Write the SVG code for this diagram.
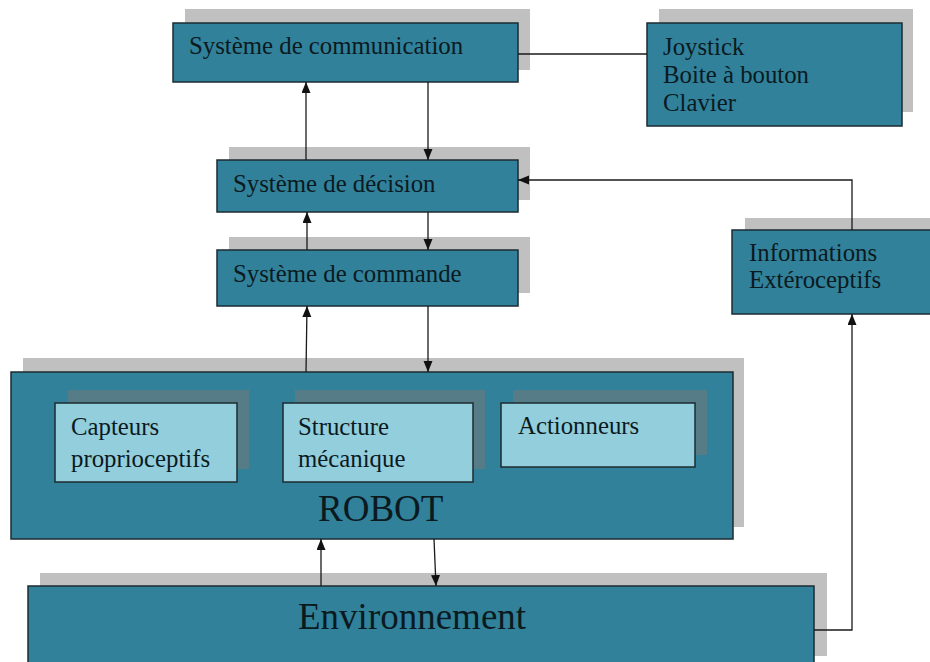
<svg xmlns="http://www.w3.org/2000/svg" width="930" height="662" viewBox="0 0 930 662">
  <defs>
    <marker id="arrow" markerUnits="userSpaceOnUse" markerWidth="11" markerHeight="10" refX="11" refY="4.5" orient="auto">
      <path d="M0,0 L11,4.5 L0,9 z" fill="#111"/>
    </marker>
    <style>
      .shadow { fill: #c0c0c0; }
      .ishadow { fill: #567c88; }
      .box { fill: #31819a; stroke: #1c2b30; stroke-width: 1.5; }
      .ibox { fill: #93cedc; stroke: #1c2b30; stroke-width: 1.5; }
      .lbl { font-family: "Liberation Serif", "Times New Roman", serif; font-size: 24.8px; fill: #0b1a1f; }
      .big { font-family: "Liberation Serif", "Times New Roman", serif; font-size: 37px; fill: #0b1a1f; }
      .wire { fill: none; stroke: #1a1a1a; stroke-width: 1.3; }
      .arr { fill: none; stroke: #1a1a1a; stroke-width: 1.3; marker-end: url(#arrow); }
    </style>
  </defs>
  <rect width="930" height="662" fill="#ffffff"/>

  <!-- communication system -->
  <g id="communication">
    <rect class="shadow" x="185" y="9" width="345" height="61"/>
    <rect class="box" x="173" y="23" width="345" height="59"/>
    <text class="lbl" x="189" y="54">Système de communication</text>
  </g>

  <!-- input devices -->
  <g id="peripheriques">
    <rect class="shadow" x="659" y="9" width="254" height="103"/>
    <rect class="box" x="647" y="23" width="255" height="103"/>
    <text class="lbl" x="663" y="55">Joystick</text>
    <text class="lbl" x="663" y="83">Boite à bouton</text>
    <text class="lbl" x="663" y="111">Clavier</text>
  </g>

  <!-- decision system -->
  <g id="decision">
    <rect class="shadow" x="229" y="147" width="301" height="53"/>
    <rect class="box" x="217" y="160" width="301" height="52"/>
    <text class="lbl" x="233" y="192">Système de décision</text>
  </g>

  <!-- command system -->
  <g id="commande">
    <rect class="shadow" x="229" y="237" width="301" height="56"/>
    <rect class="box" x="217" y="250" width="301" height="56"/>
    <text class="lbl" x="233" y="282">Système de commande</text>
  </g>

  <!-- exteroceptive information -->
  <g id="exteroceptifs">
    <rect class="shadow" x="745" y="218" width="190" height="84"/>
    <rect class="box" x="732" y="230" width="200" height="84"/>
    <text class="lbl" x="749" y="261">Informations</text>
    <text class="lbl" x="749" y="288">Extéroceptifs</text>
  </g>

  <!-- robot with its sub-parts -->
  <g id="robot">
    <rect class="shadow" x="23" y="358" width="721" height="169"/>
    <rect class="box" x="11" y="372" width="722" height="167"/>
    <g id="capteurs">
      <rect class="ishadow" x="68" y="390" width="181" height="79"/>
      <rect class="ibox" x="55" y="403" width="182" height="79"/>
      <text class="lbl" x="71" y="435">Capteurs</text>
      <text class="lbl" x="71" y="467">proprioceptifs</text>
    </g>
    <g id="structure">
      <rect class="ishadow" x="295" y="390" width="190" height="79"/>
      <rect class="ibox" x="283" y="403" width="190" height="79"/>
      <text class="lbl" x="298" y="435">Structure</text>
      <text class="lbl" x="298" y="467">mécanique</text>
    </g>
    <g id="actionneurs">
      <rect class="ishadow" x="513" y="390" width="194" height="65"/>
      <rect class="ibox" x="501" y="403" width="194" height="64"/>
      <text class="lbl" x="518" y="434">Actionneurs</text>
    </g>
    <text class="big" x="318" y="521">ROBOT</text>
  </g>

  <!-- environment -->
  <g id="environnement">
    <rect class="shadow" x="40" y="573" width="787" height="83"/>
    <rect class="box" x="28" y="586" width="786" height="90"/>
    <text class="big" x="298" y="629">Environnement</text>
  </g>

  <!-- connectors -->
  <g id="connecteurs">
    <line class="wire" x1="518" y1="54" x2="647" y2="54"/>
    <line class="arr" x1="428" y1="82" x2="428" y2="160"/>
    <line class="arr" x1="306" y1="160" x2="306" y2="82"/>
    <line class="arr" x1="428" y1="212" x2="428" y2="250"/>
    <line class="arr" x1="307" y1="250" x2="307" y2="212"/>
    <line class="arr" x1="428" y1="306" x2="428" y2="372"/>
    <line class="arr" x1="306" y1="372" x2="307" y2="306"/>
    <line class="arr" x1="321" y1="586" x2="321" y2="539"/>
    <line class="arr" x1="434" y1="539" x2="436" y2="586"/>
    <polyline class="arr" points="852,230 852,180 518,180"/>
    <polyline class="arr" points="814,630 852,630 852,314"/>
  </g>
</svg>
